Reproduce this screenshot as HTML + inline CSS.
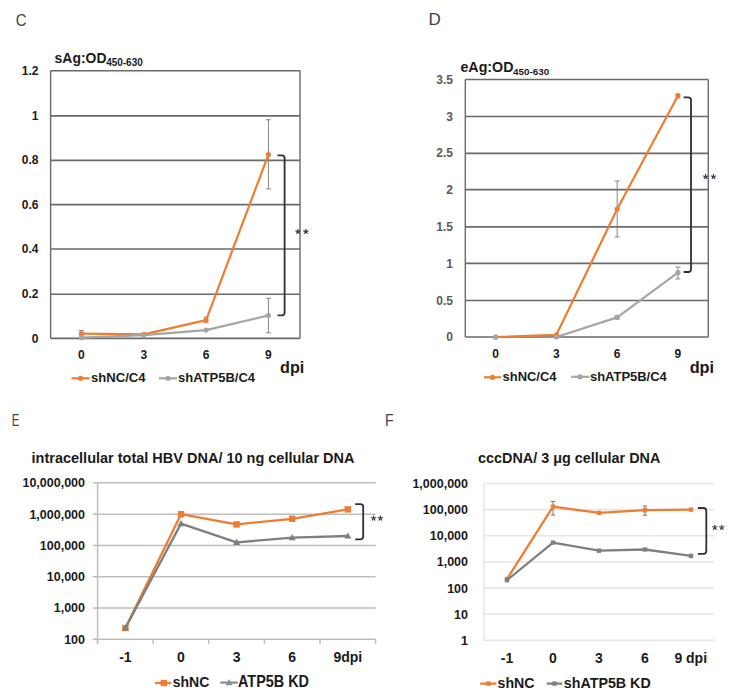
<!DOCTYPE html>
<html><head><meta charset="utf-8"><style>
html,body{margin:0;padding:0;background:#fff;}
body{width:737px;height:700px;overflow:hidden;}
svg{display:block;font-family:"Liberation Sans", sans-serif;}
</style></head><body>
<svg width="737" height="700" viewBox="0 0 737 700">
<rect width="737" height="700" fill="#fff"/>
<text transform="translate(15.85,26.00) scale(0.8875,1)" font-size="16.86" font-weight="normal" fill="#3b3f4a">C</text>
<text transform="translate(428.54,25.30) scale(0.9843,1)" font-size="17.25" font-weight="normal" fill="#3b3f4a">D</text>
<text transform="translate(11.79,425.90) scale(0.7201,1)" font-size="15.80" font-weight="normal" fill="#3b3f4a">E</text>
<text transform="translate(384.97,426.00) scale(0.8833,1)" font-size="15.94" font-weight="normal" fill="#3b3f4a">F</text>
<line x1="50.6" y1="70.7" x2="300" y2="70.7" stroke="#6a6a6a" stroke-width="1.6" />
<line x1="50.6" y1="115.9" x2="300" y2="115.9" stroke="#6a6a6a" stroke-width="1.6" />
<line x1="50.6" y1="160.4" x2="300" y2="160.4" stroke="#6a6a6a" stroke-width="1.6" />
<line x1="50.6" y1="204.6" x2="300" y2="204.6" stroke="#6a6a6a" stroke-width="1.6" />
<line x1="50.6" y1="249.0" x2="300" y2="249.0" stroke="#6a6a6a" stroke-width="1.6" />
<line x1="50.6" y1="294.3" x2="300" y2="294.3" stroke="#6a6a6a" stroke-width="1.6" />
<line x1="50.6" y1="338.4" x2="300" y2="338.4" stroke="#6a6a6a" stroke-width="1.6" />
<line x1="50.6" y1="70.7" x2="50.6" y2="338.4" stroke="#6a6a6a" stroke-width="1.4" />
<line x1="300" y1="70.7" x2="300" y2="338.4" stroke="#6a6a6a" stroke-width="1.4" />
<text x="38.5" y="75.0" font-size="12" font-weight="bold" fill="#1a1a1a" text-anchor="end" >1.2</text>
<text x="38.5" y="119.61666666666666" font-size="12" font-weight="bold" fill="#1a1a1a" text-anchor="end" >1</text>
<text x="38.5" y="164.23333333333335" font-size="12" font-weight="bold" fill="#1a1a1a" text-anchor="end" >0.8</text>
<text x="38.5" y="208.85000000000002" font-size="12" font-weight="bold" fill="#1a1a1a" text-anchor="end" >0.6</text>
<text x="38.5" y="253.4666666666667" font-size="12" font-weight="bold" fill="#1a1a1a" text-anchor="end" >0.4</text>
<text x="38.5" y="298.08333333333337" font-size="12" font-weight="bold" fill="#1a1a1a" text-anchor="end" >0.2</text>
<text x="38.5" y="342.7" font-size="12" font-weight="bold" fill="#1a1a1a" text-anchor="end" >0</text>
<text x="81.375" y="359" font-size="12" font-weight="bold" fill="#1a1a1a" text-anchor="middle" >0</text>
<text x="143.725" y="359" font-size="12" font-weight="bold" fill="#1a1a1a" text-anchor="middle" >3</text>
<text x="206.075" y="359" font-size="12" font-weight="bold" fill="#1a1a1a" text-anchor="middle" >6</text>
<text x="268.425" y="359" font-size="12" font-weight="bold" fill="#1a1a1a" text-anchor="middle" >9</text>
<text transform="translate(280.05,373.30) scale(0.9699,1)" font-size="16.69" font-weight="bold" fill="#1a1a1a">dpi</text>
<line x1="81.375" y1="330.59208333333333" x2="81.375" y2="336.1691666666666" stroke="#858585" stroke-width="1" />
<line x1="78.875" y1="330.59208333333333" x2="83.875" y2="330.59208333333333" stroke="#858585" stroke-width="1" />
<line x1="78.875" y1="336.1691666666666" x2="83.875" y2="336.1691666666666" stroke="#858585" stroke-width="1" />
<line x1="268.425" y1="119.77833333333334" x2="268.425" y2="188.93416666666664" stroke="#858585" stroke-width="1" />
<line x1="265.925" y1="119.77833333333334" x2="270.925" y2="119.77833333333334" stroke="#858585" stroke-width="1" />
<line x1="265.925" y1="188.93416666666664" x2="270.925" y2="188.93416666666664" stroke="#858585" stroke-width="1" />
<line x1="268.425" y1="298.245" x2="268.425" y2="332.82291666666663" stroke="#858585" stroke-width="1" />
<line x1="265.925" y1="298.245" x2="270.925" y2="298.245" stroke="#858585" stroke-width="1" />
<line x1="265.925" y1="332.82291666666663" x2="270.925" y2="332.82291666666663" stroke="#858585" stroke-width="1" />
<line x1="206.075" y1="317.2070833333333" x2="206.075" y2="322.78416666666664" stroke="#858585" stroke-width="1" />
<line x1="203.575" y1="317.2070833333333" x2="208.575" y2="317.2070833333333" stroke="#858585" stroke-width="1" />
<line x1="203.575" y1="322.78416666666664" x2="208.575" y2="322.78416666666664" stroke="#858585" stroke-width="1" />
<polyline points="81.4,333.7 143.7,334.4 206.1,320.1 268.4,154.6" fill="none" stroke="#ED7D31" stroke-width="2.2" stroke-linejoin="round"/>
<circle cx="81.375" cy="333.7" r="2.6" fill="#ED7D31"/>
<circle cx="143.725" cy="334.4" r="2.6" fill="#ED7D31"/>
<circle cx="206.075" cy="320.1" r="2.6" fill="#ED7D31"/>
<circle cx="268.425" cy="154.6" r="2.6" fill="#ED7D31"/>
<polyline points="81.4,337.7 143.7,335.1 206.1,330.1 268.4,315.4" fill="none" stroke="#A5A5A5" stroke-width="2.2" stroke-linejoin="round"/>
<circle cx="81.375" cy="337.7" r="2.6" fill="#A5A5A5"/>
<circle cx="143.725" cy="335.1" r="2.6" fill="#A5A5A5"/>
<circle cx="206.075" cy="330.1" r="2.6" fill="#A5A5A5"/>
<circle cx="268.425" cy="315.4" r="2.6" fill="#A5A5A5"/>
<path d="M277.5,155.3 H281.8 Q284.6,155.3 284.6,158.10000000000002 V312.59999999999997 Q284.6,315.4 281.8,315.4 H277.5" fill="none" stroke="#303030" stroke-width="1.8"/>
<path d="M298.00,231.60 L298.00,229.30 M298.00,231.60 L300.19,230.89 M298.00,231.60 L299.35,233.46 M298.00,231.60 L296.65,233.46 M298.00,231.60 L295.81,230.89 " stroke="#353a45" stroke-width="1.15" stroke-linecap="round" fill="none"/>
<path d="M305.90,231.60 L305.90,229.30 M305.90,231.60 L308.09,230.89 M305.90,231.60 L307.25,233.46 M305.90,231.60 L304.55,233.46 M305.90,231.60 L303.71,230.89 " stroke="#353a45" stroke-width="1.15" stroke-linecap="round" fill="none"/>
<text transform="translate(54.61,62.70) scale(0.9565,1)" font-size="14.57" font-weight="bold" fill="#1a1a1a">sAg:OD</text>
<text transform="translate(106.15,66.20) scale(0.9709,1)" font-size="10.29" font-weight="bold" fill="#1a1a1a">450-630</text>
<line x1="71.5" y1="378.3" x2="89.5" y2="378.3" stroke="#ED7D31" stroke-width="2.2" />
<circle cx="80.5" cy="378.3" r="2.6" fill="#ED7D31"/>
<text transform="translate(90.94,381.90) scale(1.0805,1)" font-size="12.14" font-weight="bold" fill="#1a1a1a">shNC/C4</text>
<line x1="159" y1="378.3" x2="177" y2="378.3" stroke="#A5A5A5" stroke-width="2.2" />
<circle cx="168" cy="378.3" r="2.6" fill="#A5A5A5"/>
<text transform="translate(178.05,381.90) scale(1.0710,1)" font-size="12.14" font-weight="bold" fill="#1a1a1a">shATP5B/C4</text>
<line x1="465.3" y1="79.45" x2="708.3" y2="79.45" stroke="#6a6a6a" stroke-width="1.6" />
<line x1="465.3" y1="116.55" x2="708.3" y2="116.55" stroke="#6a6a6a" stroke-width="1.6" />
<line x1="465.3" y1="153.35" x2="708.3" y2="153.35" stroke="#6a6a6a" stroke-width="1.6" />
<line x1="465.3" y1="189.6" x2="708.3" y2="189.6" stroke="#6a6a6a" stroke-width="1.6" />
<line x1="465.3" y1="226.9" x2="708.3" y2="226.9" stroke="#6a6a6a" stroke-width="1.6" />
<line x1="465.3" y1="263.4" x2="708.3" y2="263.4" stroke="#6a6a6a" stroke-width="1.6" />
<line x1="465.3" y1="300.45" x2="708.3" y2="300.45" stroke="#6a6a6a" stroke-width="1.6" />
<line x1="465.3" y1="337.0" x2="708.3" y2="337.0" stroke="#6a6a6a" stroke-width="1.6" />
<line x1="465.3" y1="79.5" x2="465.3" y2="337.0" stroke="#6a6a6a" stroke-width="1.4" />
<line x1="708.3" y1="79.5" x2="708.3" y2="337.0" stroke="#6a6a6a" stroke-width="1.4" />
<text x="453" y="83.8" font-size="12" font-weight="bold" fill="#595959" text-anchor="end" >3.5</text>
<text x="453" y="120.58571428571427" font-size="12" font-weight="bold" fill="#595959" text-anchor="end" >3</text>
<text x="453" y="157.37142857142857" font-size="12" font-weight="bold" fill="#595959" text-anchor="end" >2.5</text>
<text x="453" y="194.15714285714287" font-size="12" font-weight="bold" fill="#595959" text-anchor="end" >2</text>
<text x="453" y="230.94285714285715" font-size="12" font-weight="bold" fill="#595959" text-anchor="end" >1.5</text>
<text x="453" y="267.72857142857146" font-size="12" font-weight="bold" fill="#595959" text-anchor="end" >1</text>
<text x="453" y="304.51428571428573" font-size="12" font-weight="bold" fill="#595959" text-anchor="end" >0.5</text>
<text x="453" y="341.3" font-size="12" font-weight="bold" fill="#595959" text-anchor="end" >0</text>
<text x="495.675" y="357.5" font-size="12" font-weight="bold" fill="#1a1a1a" text-anchor="middle" >0</text>
<text x="556.425" y="357.5" font-size="12" font-weight="bold" fill="#1a1a1a" text-anchor="middle" >3</text>
<text x="617.175" y="357.5" font-size="12" font-weight="bold" fill="#1a1a1a" text-anchor="middle" >6</text>
<text x="677.925" y="357.5" font-size="12" font-weight="bold" fill="#1a1a1a" text-anchor="middle" >9</text>
<text transform="translate(689.65,373.00) scale(1.0386,1)" font-size="15.72" font-weight="bold" fill="#1a1a1a">dpi</text>
<line x1="617.175" y1="181.0285714285714" x2="617.175" y2="236.94285714285712" stroke="#858585" stroke-width="1" />
<line x1="614.675" y1="181.0285714285714" x2="619.675" y2="181.0285714285714" stroke="#858585" stroke-width="1" />
<line x1="614.675" y1="236.94285714285712" x2="619.675" y2="236.94285714285712" stroke="#858585" stroke-width="1" />
<line x1="677.925" y1="267.1071428571429" x2="677.925" y2="278.87857142857143" stroke="#858585" stroke-width="1" />
<line x1="675.425" y1="267.1071428571429" x2="680.425" y2="267.1071428571429" stroke="#858585" stroke-width="1" />
<line x1="675.425" y1="278.87857142857143" x2="680.425" y2="278.87857142857143" stroke="#858585" stroke-width="1" />
<line x1="617.175" y1="315.6642857142857" x2="617.175" y2="318.975" stroke="#858585" stroke-width="1" />
<line x1="614.675" y1="315.6642857142857" x2="619.675" y2="315.6642857142857" stroke="#858585" stroke-width="1" />
<line x1="614.675" y1="318.975" x2="619.675" y2="318.975" stroke="#858585" stroke-width="1" />
<line x1="677.925" y1="94.3" x2="677.925" y2="97.6" stroke="#7a7a7a" stroke-width="1" />
<line x1="675.7249999999999" y1="94.3" x2="680.125" y2="94.3" stroke="#7a7a7a" stroke-width="1" />
<line x1="675.7249999999999" y1="97.6" x2="680.125" y2="97.6" stroke="#7a7a7a" stroke-width="1" />
<polyline points="495.7,337.0 556.4,334.8 617.2,209.0 677.9,95.7" fill="none" stroke="#ED7D31" stroke-width="2.2" stroke-linejoin="round"/>
<circle cx="495.675" cy="337.0" r="2.6" fill="#ED7D31"/>
<circle cx="556.425" cy="334.8" r="2.6" fill="#ED7D31"/>
<circle cx="617.175" cy="209.0" r="2.6" fill="#ED7D31"/>
<circle cx="677.925" cy="95.7" r="2.6" fill="#ED7D31"/>
<polyline points="556.4,337.0 617.2,317.4 677.9,272.7" fill="none" stroke="#A5A5A5" stroke-width="2.2" stroke-linejoin="round"/>
<circle cx="495.675" cy="337.0" r="2.6" fill="#A5A5A5"/>
<circle cx="556.425" cy="337.0" r="2.6" fill="#A5A5A5"/>
<circle cx="617.175" cy="317.4" r="2.6" fill="#A5A5A5"/>
<circle cx="677.925" cy="272.7" r="2.6" fill="#A5A5A5"/>
<path d="M683.6,97.3 H688.2 Q691,97.3 691,100.1 V269.2 Q691,272 688.2,272 H683.6" fill="none" stroke="#303030" stroke-width="1.8"/>
<path d="M705.60,176.70 L705.60,174.40 M705.60,176.70 L707.79,175.99 M705.60,176.70 L706.95,178.56 M705.60,176.70 L704.25,178.56 M705.60,176.70 L703.41,175.99 " stroke="#353a45" stroke-width="1.15" stroke-linecap="round" fill="none"/>
<path d="M713.50,176.70 L713.50,174.40 M713.50,176.70 L715.69,175.99 M713.50,176.70 L714.85,178.56 M713.50,176.70 L712.15,178.56 M713.50,176.70 L711.31,175.99 " stroke="#353a45" stroke-width="1.15" stroke-linecap="round" fill="none"/>
<text transform="translate(460.43,71.60) scale(0.9690,1)" font-size="14.71" font-weight="bold" fill="#1a1a1a">eAg:OD</text>
<text transform="translate(513.05,74.50) scale(0.9991,1)" font-size="9.86" font-weight="bold" fill="#1a1a1a">450-630</text>
<line x1="484" y1="377.3" x2="501" y2="377.3" stroke="#ED7D31" stroke-width="2.2" />
<circle cx="492.5" cy="377.3" r="2.6" fill="#ED7D31"/>
<text transform="translate(502.55,381.30) scale(1.0665,1)" font-size="12.14" font-weight="bold" fill="#1a1a1a">shNC/C4</text>
<line x1="571" y1="376.8" x2="589.5" y2="376.8" stroke="#A5A5A5" stroke-width="2.2" />
<circle cx="580" cy="376.8" r="2.6" fill="#A5A5A5"/>
<text transform="translate(589.95,380.80) scale(1.0696,1)" font-size="12.14" font-weight="bold" fill="#1a1a1a">shATP5B/C4</text>
<line x1="97.6" y1="482.86" x2="375.6" y2="482.86" stroke="#BDBDBD" stroke-width="1.5" />
<line x1="97.6" y1="514.16" x2="375.6" y2="514.16" stroke="#BDBDBD" stroke-width="1.5" />
<line x1="97.6" y1="545.46" x2="375.6" y2="545.46" stroke="#BDBDBD" stroke-width="1.5" />
<line x1="97.6" y1="576.76" x2="375.6" y2="576.76" stroke="#BDBDBD" stroke-width="1.5" />
<line x1="97.6" y1="608.0600000000001" x2="375.6" y2="608.0600000000001" stroke="#BDBDBD" stroke-width="1.5" />
<line x1="93" y1="639.36" x2="375.6" y2="639.36" stroke="#BDBDBD" stroke-width="1.5" />
<line x1="97.6" y1="482.86" x2="97.6" y2="643.86" stroke="#BDBDBD" stroke-width="1.5" />
<line x1="93" y1="482.86" x2="97.6" y2="482.86" stroke="#BDBDBD" stroke-width="1.5" />
<line x1="93" y1="514.16" x2="97.6" y2="514.16" stroke="#BDBDBD" stroke-width="1.5" />
<line x1="93" y1="545.46" x2="97.6" y2="545.46" stroke="#BDBDBD" stroke-width="1.5" />
<line x1="93" y1="576.76" x2="97.6" y2="576.76" stroke="#BDBDBD" stroke-width="1.5" />
<line x1="93" y1="608.0600000000001" x2="97.6" y2="608.0600000000001" stroke="#BDBDBD" stroke-width="1.5" />
<line x1="93" y1="639.36" x2="97.6" y2="639.36" stroke="#BDBDBD" stroke-width="1.5" />
<line x1="97.6" y1="639.36" x2="97.6" y2="643.86" stroke="#BDBDBD" stroke-width="1.5" />
<line x1="153.2" y1="639.36" x2="153.2" y2="643.86" stroke="#BDBDBD" stroke-width="1.5" />
<line x1="208.8" y1="639.36" x2="208.8" y2="643.86" stroke="#BDBDBD" stroke-width="1.5" />
<line x1="264.4" y1="639.36" x2="264.4" y2="643.86" stroke="#BDBDBD" stroke-width="1.5" />
<line x1="320.0" y1="639.36" x2="320.0" y2="643.86" stroke="#BDBDBD" stroke-width="1.5" />
<line x1="375.6" y1="639.36" x2="375.6" y2="643.86" stroke="#BDBDBD" stroke-width="1.5" />
<text x="85" y="487.26" font-size="12.5" font-weight="bold" fill="#1a1a1a" text-anchor="end" >10,000,000</text>
<text x="85" y="518.56" font-size="12.5" font-weight="bold" fill="#1a1a1a" text-anchor="end" >1,000,000</text>
<text x="85" y="549.86" font-size="12.5" font-weight="bold" fill="#1a1a1a" text-anchor="end" >100,000</text>
<text x="85" y="581.16" font-size="12.5" font-weight="bold" fill="#1a1a1a" text-anchor="end" >10,000</text>
<text x="85" y="612.46" font-size="12.5" font-weight="bold" fill="#1a1a1a" text-anchor="end" >1,000</text>
<text x="85" y="643.76" font-size="12.5" font-weight="bold" fill="#1a1a1a" text-anchor="end" >100</text>
<text x="125.39999999999999" y="662.4" font-size="14" font-weight="bold" fill="#1a1a1a" text-anchor="middle" >-1</text>
<text x="181.0" y="662.4" font-size="14" font-weight="bold" fill="#1a1a1a" text-anchor="middle" >0</text>
<text x="236.6" y="662.4" font-size="14" font-weight="bold" fill="#1a1a1a" text-anchor="middle" >3</text>
<text x="292.2" y="662.4" font-size="14" font-weight="bold" fill="#1a1a1a" text-anchor="middle" >6</text>
<text x="347.8" y="662.4" font-size="14" font-weight="bold" fill="#1a1a1a" text-anchor="middle" >9dpi</text>
<polyline points="125.4,628.0 181.0,514.2 236.6,524.4 292.2,518.8 347.8,509.4" fill="none" stroke="#ED7D31" stroke-width="2.3" stroke-linejoin="round"/>
<rect x="122.2" y="624.8" width="6.4" height="6.4" fill="#ED7D31"/>
<rect x="177.8" y="511.0" width="6.4" height="6.4" fill="#ED7D31"/>
<rect x="233.4" y="521.2" width="6.4" height="6.4" fill="#ED7D31"/>
<rect x="289.0" y="515.6" width="6.4" height="6.4" fill="#ED7D31"/>
<rect x="344.6" y="506.2" width="6.4" height="6.4" fill="#ED7D31"/>
<polyline points="125.4,628.0 181.0,523.6 236.6,542.4 292.2,537.6 347.8,536.0" fill="none" stroke="#7F7F7F" stroke-width="2.3" stroke-linejoin="round"/>
<path d="M125.4,624.4 L129.0,630.6 L121.8,630.6Z" fill="#7F7F7F"/>
<path d="M181.0,520.0 L184.6,526.2 L177.4,526.2Z" fill="#7F7F7F"/>
<path d="M236.6,538.8 L240.2,545.0 L233.0,545.0Z" fill="#7F7F7F"/>
<path d="M292.2,534.0 L295.8,540.2 L288.6,540.2Z" fill="#7F7F7F"/>
<path d="M347.8,532.4 L351.4,538.6 L344.2,538.6Z" fill="#7F7F7F"/>
<path d="M355.2,504.2 H360.4 Q363.2,504.2 363.2,507.0 V536.6 Q363.2,539.4 360.4,539.4 H355.2" fill="none" stroke="#303030" stroke-width="1.8"/>
<path d="M373.60,518.20 L373.60,515.90 M373.60,518.20 L375.79,517.49 M373.60,518.20 L374.95,520.06 M373.60,518.20 L372.25,520.06 M373.60,518.20 L371.41,517.49 " stroke="#353a45" stroke-width="1.15" stroke-linecap="round" fill="none"/>
<path d="M380.40,518.20 L380.40,515.90 M380.40,518.20 L382.59,517.49 M380.40,518.20 L381.75,520.06 M380.40,518.20 L379.05,520.06 M380.40,518.20 L378.21,517.49 " stroke="#353a45" stroke-width="1.15" stroke-linecap="round" fill="none"/>
<text transform="translate(31.58,462.70) scale(1.0118,1)" font-size="14.34" font-weight="bold" fill="#1a1a1a">intracellular total HBV DNA/ 10 ng cellular DNA</text>
<line x1="155" y1="683" x2="171" y2="683" stroke="#ED7D31" stroke-width="2.3" />
<rect x="160.6" y="679.8" width="6.4" height="6.4" fill="#ED7D31"/>
<text transform="translate(172.71,687.00) scale(0.9088,1)" font-size="15.45" font-weight="bold" fill="#1a1a1a">shNC</text>
<line x1="220.3" y1="682.6" x2="237.7" y2="682.6" stroke="#8f8f8f" stroke-width="2.3" />
<path d="M229,679.0 L232.6,685.2 L225.4,685.2Z" fill="#8f8f8f"/>
<text transform="translate(238.04,687.00) scale(0.9118,1)" font-size="15.80" font-weight="bold" fill="#1a1a1a">ATP5B KD</text>
<line x1="484" y1="483.5" x2="714" y2="483.5" stroke="#E6E6E6" stroke-width="1.6" />
<line x1="484" y1="509.65" x2="714" y2="509.65" stroke="#E6E6E6" stroke-width="1.6" />
<line x1="484" y1="535.8" x2="714" y2="535.8" stroke="#E6E6E6" stroke-width="1.6" />
<line x1="484" y1="561.95" x2="714" y2="561.95" stroke="#E6E6E6" stroke-width="1.6" />
<line x1="484" y1="588.1" x2="714" y2="588.1" stroke="#E6E6E6" stroke-width="1.6" />
<line x1="484" y1="614.25" x2="714" y2="614.25" stroke="#E6E6E6" stroke-width="1.6" />
<line x1="484" y1="640.4" x2="714" y2="640.4" stroke="#E6E6E6" stroke-width="1.6" />
<line x1="484" y1="483.5" x2="484" y2="640.4" stroke="#E6E6E6" stroke-width="1.6" />
<text x="468" y="487.9" font-size="12.5" font-weight="bold" fill="#1a1a1a" text-anchor="end" >1,000,000</text>
<text x="468" y="514.05" font-size="12.5" font-weight="bold" fill="#1a1a1a" text-anchor="end" >100,000</text>
<text x="468" y="540.1999999999999" font-size="12.5" font-weight="bold" fill="#1a1a1a" text-anchor="end" >10,000</text>
<text x="468" y="566.35" font-size="12.5" font-weight="bold" fill="#1a1a1a" text-anchor="end" >1,000</text>
<text x="468" y="592.5" font-size="12.5" font-weight="bold" fill="#1a1a1a" text-anchor="end" >100</text>
<text x="468" y="618.65" font-size="12.5" font-weight="bold" fill="#1a1a1a" text-anchor="end" >10</text>
<text x="468" y="644.8" font-size="12.5" font-weight="bold" fill="#1a1a1a" text-anchor="end" >1</text>
<text x="507.0" y="663.4" font-size="14" font-weight="bold" fill="#1a1a1a" text-anchor="middle" >-1</text>
<text x="553.0" y="663.4" font-size="14" font-weight="bold" fill="#1a1a1a" text-anchor="middle" >0</text>
<text x="599.0" y="663.4" font-size="14" font-weight="bold" fill="#1a1a1a" text-anchor="middle" >3</text>
<text x="645.0" y="663.4" font-size="14" font-weight="bold" fill="#1a1a1a" text-anchor="middle" >6</text>
<text x="674.4" y="663.4" font-size="14" font-weight="bold" fill="#1a1a1a" text-anchor="start" >9 dpi</text>
<line x1="553.0" y1="501.4" x2="553.0" y2="515" stroke="#737373" stroke-width="1" />
<line x1="550.8" y1="501.4" x2="555.2" y2="501.4" stroke="#737373" stroke-width="1" />
<line x1="550.8" y1="515" x2="555.2" y2="515" stroke="#737373" stroke-width="1" />
<line x1="645.0" y1="506" x2="645.0" y2="515.2" stroke="#737373" stroke-width="1" />
<line x1="642.8" y1="506" x2="647.2" y2="506" stroke="#737373" stroke-width="1" />
<line x1="642.8" y1="515.2" x2="647.2" y2="515.2" stroke="#737373" stroke-width="1" />
<polyline points="507.0,579.0 553.0,506.7 599.0,512.9 645.0,510.2 691.0,509.6" fill="none" stroke="#ED7D31" stroke-width="2.3" stroke-linejoin="round"/>
<rect x="504.8" y="576.8" width="4.4" height="4.4" fill="#ED7D31"/>
<rect x="550.8" y="504.5" width="4.4" height="4.4" fill="#ED7D31"/>
<rect x="596.8" y="510.7" width="4.4" height="4.4" fill="#ED7D31"/>
<rect x="642.8" y="508.0" width="4.4" height="4.4" fill="#ED7D31"/>
<rect x="688.8" y="507.4" width="4.4" height="4.4" fill="#ED7D31"/>
<polyline points="507.0,580.2 553.0,542.6 599.0,550.7 645.0,549.5 691.0,555.9" fill="none" stroke="#7F7F7F" stroke-width="2.3" stroke-linejoin="round"/>
<rect x="504.8" y="578.0" width="4.4" height="4.4" fill="#7F7F7F"/>
<rect x="550.8" y="540.4" width="4.4" height="4.4" fill="#7F7F7F"/>
<rect x="596.8" y="548.5" width="4.4" height="4.4" fill="#7F7F7F"/>
<rect x="642.8" y="547.3" width="4.4" height="4.4" fill="#7F7F7F"/>
<rect x="688.8" y="553.7" width="4.4" height="4.4" fill="#7F7F7F"/>
<path d="M697.9,508 H703.5 Q706.3,508 706.3,510.8 V551.0 Q706.3,553.8 703.5,553.8 H697.9" fill="none" stroke="#303030" stroke-width="1.8"/>
<path d="M714.80,527.50 L714.80,525.20 M714.80,527.50 L716.99,526.79 M714.80,527.50 L716.15,529.36 M714.80,527.50 L713.45,529.36 M714.80,527.50 L712.61,526.79 " stroke="#353a45" stroke-width="1.15" stroke-linecap="round" fill="none"/>
<path d="M721.80,527.50 L721.80,525.20 M721.80,527.50 L723.99,526.79 M721.80,527.50 L723.15,529.36 M721.80,527.50 L720.45,529.36 M721.80,527.50 L719.61,526.79 " stroke="#353a45" stroke-width="1.15" stroke-linecap="round" fill="none"/>
<text x="478" y="463" font-size="14.4" font-weight="bold" fill="#1a1a1a" text-anchor="start" >cccDNA/ 3 μg cellular DNA</text>
<line x1="480.2" y1="683.6" x2="496.4" y2="683.6" stroke="#ED7D31" stroke-width="2.3" />
<rect x="486.3" y="681.4" width="4.4" height="4.4" fill="#ED7D31"/>
<text transform="translate(497.50,688.00) scale(0.9357,1)" font-size="15.17" font-weight="bold" fill="#1a1a1a">shNC</text>
<line x1="546.8" y1="683.6" x2="562.2" y2="683.6" stroke="#7F7F7F" stroke-width="2.3" />
<rect x="552.3" y="681.4" width="4.4" height="4.4" fill="#7F7F7F"/>
<text transform="translate(563.80,688.00) scale(0.9412,1)" font-size="15.17" font-weight="bold" fill="#1a1a1a">shATP5B KD</text>
</svg>
</body></html>
